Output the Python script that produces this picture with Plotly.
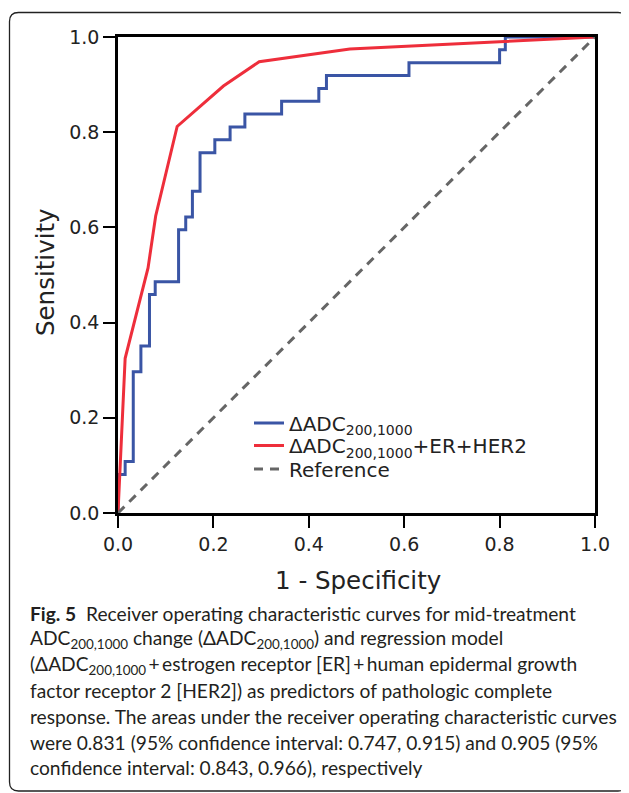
import plotly.graph_objects as go

# ---- data ----
blue_fpr = [0.0, 0.015, 0.032, 0.048, 0.066, 0.078, 0.127, 0.142, 0.156, 0.172,
            0.203, 0.235, 0.266, 0.343, 0.421, 0.437, 0.610, 0.800, 0.812, 1.0]
blue_tpr = [0.0, 0.081, 0.108, 0.297, 0.351, 0.459, 0.486, 0.595, 0.622, 0.676,
            0.757, 0.784, 0.811, 0.838, 0.865, 0.892, 0.919, 0.946, 0.973, 1.0]

red_fpr = [0.0, 0.015, 0.063, 0.079, 0.124, 0.221, 0.296, 0.486, 0.800, 1.0]
red_tpr = [0.0, 0.325, 0.515, 0.624, 0.812, 0.897, 0.948, 0.975, 0.990, 1.0]

ref_x = [0.0, 1.0]
ref_y = [0.0, 1.0]

tick_vals = [0.0, 0.2, 0.4, 0.6, 0.8, 1.0]
tick_text = ["0.0", "0.2", "0.4", "0.6", "0.8", "1.0"]

legend_names = ["ΔADC<sub>200,1000</sub>",
                "ΔADC<sub>200,1000</sub>+ER+HER2",
                "Reference"]

caption_lines = [
    "<b>Fig. 5</b>  Receiver operating characteristic curves for mid-treatment",
    "ADC<sub>200,1000</sub> change (ΔADC<sub>200,1000</sub>) and regression model",
    "(ΔADC<sub>200,1000</sub>\u2009+\u2009estrogen receptor [ER]\u2009+\u2009human epidermal growth",
    "factor receptor 2 [HER2]) as predictors of pathologic complete",
    "response. The areas under the receiver operating characteristic curves",
    "were 0.831 (95% confidence interval: 0.747, 0.915) and 0.905 (95%",
    "confidence interval: 0.843, 0.966), respectively",
]

# ---- layout geometry (screen pixels; page body has an 8px margin) ----
OFF = 8
W, H = 629 - OFF, 793 - OFF
L, R, T, B = 118 - OFF, 595 - OFF, 37 - OFF, 513 - OFF
PW, PH = R - L, B - T

CHART_FONT = "DejaVu Sans, Liberation Sans, sans-serif"


def px2x(px):
    return (px - OFF - L) / PW


def px2y(py):
    return (B - (py - OFF)) / PH


fig = go.Figure()

fig.add_trace(go.Scatter(x=blue_fpr, y=blue_tpr, mode="lines", line_shape="vh",
                         line=dict(color="#3a55a5", width=3), name=legend_names[0],
                         legend="legend"))
fig.add_trace(go.Scatter(x=red_fpr, y=red_tpr, mode="lines",
                         line=dict(color="#ee2e3b", width=3), name=legend_names[1],
                         legend="legend2"))
fig.add_trace(go.Scatter(x=ref_x, y=ref_y, mode="lines",
                         line=dict(color="#666666", width=3, dash="9px,7px"),
                         name=legend_names[2], legend="legend3"))

axis_common = dict(
    range=[0, 1], tickvals=tick_vals, ticktext=tick_text,
    ticks="outside", ticklen=12, tickwidth=2, tickcolor="black",
    showline=True, linecolor="black", linewidth=2.5, mirror=True,
    showgrid=False, zeroline=False,
    tickfont=dict(family=CHART_FONT, size=19, color="#222"),
)


def legend_at(py):
    return dict(
        x=px2x(249), y=px2y(py), xanchor="left", yanchor="middle",
        bgcolor="rgba(0,0,0,0)",
        font=dict(family=CHART_FONT, size=20, color="#222"),
        itemwidth=30,
    )


fig.update_layout(
    width=W, height=H,
    margin=dict(l=L, r=W - R, t=T, b=H - B, autoexpand=False),
    paper_bgcolor="white", plot_bgcolor="white",
    xaxis=dict(**axis_common),
    yaxis=dict(**axis_common),
    showlegend=True,
    legend=legend_at(423),
    legend2=legend_at(445.5),
    legend3=legend_at(469),
)

annotations = [
    dict(text="Sensitivity", x=px2x(45), y=px2y(272), xref="paper", yref="paper",
         textangle=-90, showarrow=False, xanchor="center", yanchor="middle",
         font=dict(family=CHART_FONT, size=24.5, color="#222")),
    dict(text="1 - Specificity", x=px2x(357.5), y=px2y(580), xref="paper", yref="paper",
         showarrow=False, xanchor="center", yanchor="middle",
         font=dict(family=CHART_FONT, size=24.5, color="#222")),
]

cap_y0 = 613
cap_dy = 25.8
for i, line in enumerate(caption_lines):
    annotations.append(dict(
        text=line, x=px2x(28), y=px2y(cap_y0 + i * cap_dy), xref="paper", yref="paper",
        showarrow=False, xanchor="left", yanchor="middle", align="left",
        font=dict(family="Lato, Noto Sans, sans-serif", size=19.2, color="#231f20"),
    ))
fig.update_layout(annotations=annotations)

# rounded frame around the figure
x0, x1 = px2x(9.5), px2x(627)
y0, y1 = px2y(791), px2y(12.5)
rx, ry = 9 / PW, 9 / PH
path = (f"M {x0+rx},{y1} L {x1-rx},{y1} Q {x1},{y1} {x1},{y1-ry} "
        f"L {x1},{y0+ry} Q {x1},{y0} {x1-rx},{y0} "
        f"L {x0+rx},{y0} Q {x0},{y0} {x0},{y0+ry} "
        f"L {x0},{y1-ry} Q {x0},{y1} {x0+rx},{y1} Z")
fig.add_shape(type="path", path=path, xref="paper", yref="paper",
              line=dict(color="#222", width=1.3), layer="below")

fig.write_html("out.html")
